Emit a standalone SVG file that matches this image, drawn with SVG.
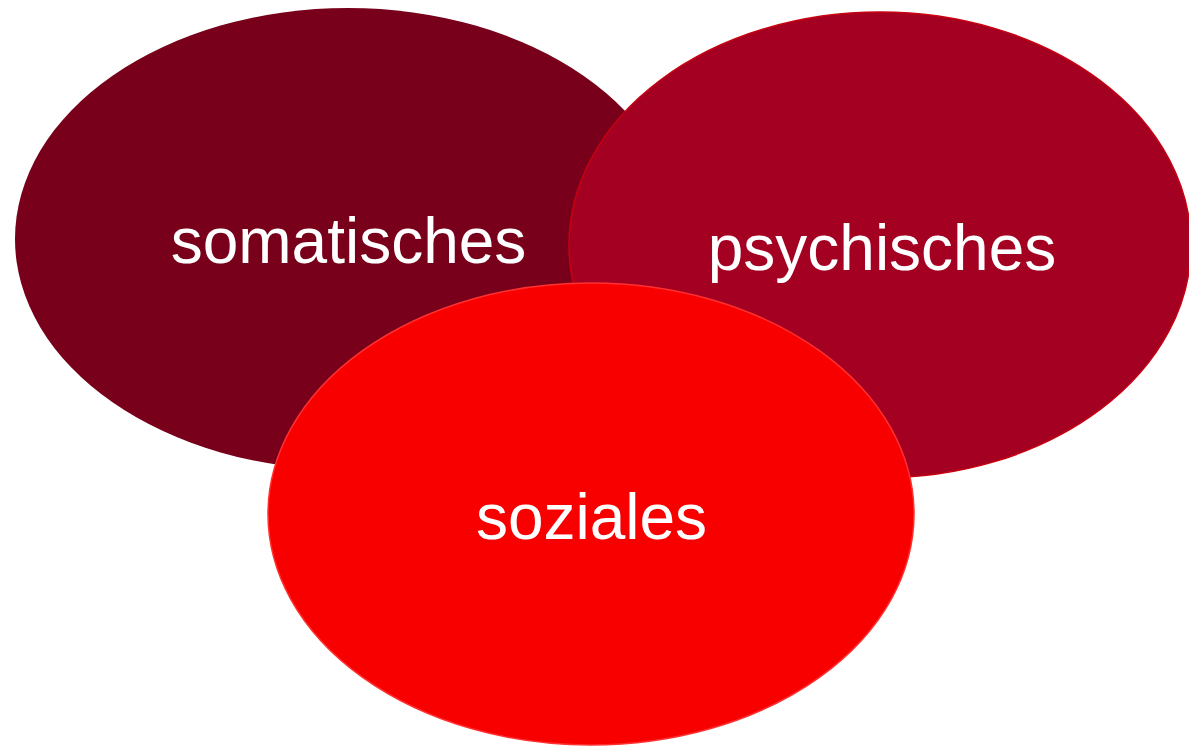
<svg xmlns="http://www.w3.org/2000/svg" width="1189" height="747" viewBox="0 0 1189 747">
<style>
.lbl{font-family:"Liberation Sans",Arial,sans-serif;font-size:64px;fill:#ffffff;text-anchor:middle}
</style>
<rect width="1189" height="747" fill="#ffffff"/>
<g id="somatisches">
<ellipse cx="348" cy="239" rx="333" ry="231" fill="#78001A"/>
<text class="lbl" x="348.5" y="263">somatisches</text>
</g>
<g id="psychisches">
<ellipse cx="880" cy="245" rx="311" ry="233" fill="#A30022" stroke="#C80010" stroke-width="1.5"/>
<text class="lbl" x="882" y="270">psychisches</text>
</g>
<g id="soziales">
<ellipse cx="591" cy="514" rx="323" ry="231" fill="#F90000" stroke="#FF3030" stroke-width="1.5"/>
<text class="lbl" x="591.5" y="539">soziales</text>
</g>
<g id="connectors"/>
</svg>
